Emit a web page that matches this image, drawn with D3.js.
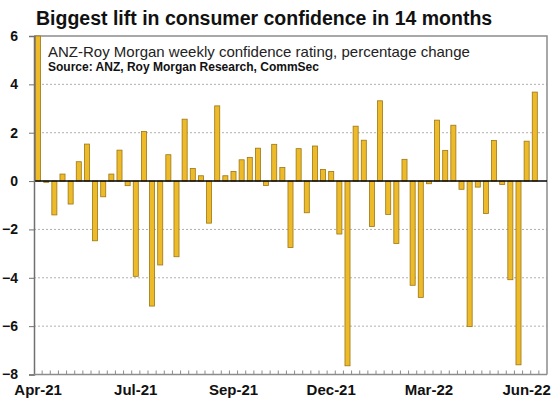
<!DOCTYPE html>
<html lang="en">
<head>
<meta charset="utf-8">
<title>Biggest lift in consumer confidence in 14 months</title>
<script src="https://d3js.org/d3.v7.min.js"></script>
<style>
  body { margin: 0; background: #fff; }
  text { font-family: "Liberation Sans", Arial, sans-serif; }
</style>
</head>
<body>
<script>

// weekly % change, ANZ-Roy Morgan consumer confidence (Apr-21 .. Jun-22)
var values = [6.0, -0.05, -1.40, 0.29, -0.95, 0.80, 1.53, -2.47, -0.65, 0.29,
  1.28, -0.19, -3.94, 2.05, -5.17, -3.47, 1.09, -3.13, 2.56, 0.52,
  0.22, -1.74, 3.11, 0.22, 0.40, 0.88, 0.98, 1.36, -0.18, 1.52,
  0.56, -2.75, 1.34, -1.31, 1.45, 0.48, 0.40, -2.19, -7.64, 2.27,
  1.69, -1.88, 3.32, -1.38, -2.58, 0.90, -4.31, -4.81, -0.11, 2.52,
  1.27, 2.31, -0.34, -6.02, -0.25, -1.34, 1.68, -0.14, -4.08, -7.60,
  1.65, 3.68];

// one category per week, plus an empty week at the end of the axis
var weeks = d3.range(values.length + 1);

// date labels sit on every 12th week
var xLabels = ["Apr-21", "Jul-21", "Sep-21", "Dec-21", "Mar-22", "Jun-22"];
var xLabelWeeks = [0, 12, 24, 36, 48, 60];

var yTicks = [-8, -6, -4, -2, 0, 2, 4, 6];

var W = 558, H = 411;
// plot box (note: "top" is reserved on window, so prefixed names)
var pLeft = 34, pRight = 547, pTop = 36, pBottom = 374.5;

var svg = d3.select("body").append("svg")
  .attr("width", W)
  .attr("height", H);

var x = d3.scaleBand()
  .domain(weeks)
  .range([pLeft, pRight])
  .paddingInner(0.38)
  .paddingOuter(0.19);

var y = d3.scaleLinear()
  .domain([-8, 6])
  .range([pBottom, pTop]);

// title
svg.append("text")
  .attr("x", 36)
  .attr("y", 25)
  .attr("font-size", 19.5)
  .attr("font-weight", "bold")
  .attr("fill", "#111")
  .text("Biggest lift in consumer confidence in 14 months");

// dotted gridlines
svg.append("g")
  .selectAll("line")
  .data(yTicks.filter(function(d){ return d != 0 && d != 6 && d != -8; }))
  .enter()
  .append("line")
  .attr("x1", pLeft)
  .attr("x2", pRight)
  .attr("y1", function(d){ return y(d); })
  .attr("y2", function(d){ return y(d); })
  .attr("stroke", "#b0b0b0")
  .attr("stroke-width", 1)
  .attr("stroke-dasharray", "2,2");

// frame (top and right)
svg.append("path")
  .attr("d", "M" + pLeft + "," + pTop + "H" + pRight + "V" + pBottom)
  .attr("fill", "none")
  .attr("stroke", "#8c8c8c")
  .attr("stroke-width", 1.5);

// bars
svg.append("g")
  .selectAll("rect")
  .data(values)
  .enter()
  .append("rect")
  .attr("x", function(d, i){ return x(weeks[i]); })
  .attr("width", x.bandwidth())
  .attr("y", function(d){ return y(Math.max(0, d)); })
  .attr("height", function(d){ return Math.abs(y(d) - y(0)); })
  .attr("fill", "#EDBA2A")
  .attr("stroke", "#9C7614")
  .attr("stroke-width", 0.8);

// zero line
svg.append("line")
  .attr("x1", pLeft)
  .attr("x2", pRight)
  .attr("y1", y(0))
  .attr("y2", y(0))
  .attr("stroke", "#000")
  .attr("stroke-width", 1.5);

// y axis
var yAxis = svg.append("g")
  .attr("transform", "translate(" + pLeft + ",0)")
  .call(d3.axisLeft(y).tickValues(yTicks).tickSize(5).tickPadding(11));
yAxis.select(".domain").attr("stroke", "#707070").attr("stroke-width", 1.5);
yAxis.selectAll(".tick line").attr("stroke", "#707070");
yAxis.selectAll(".tick text")
  .attr("font-size", 14)
  .attr("font-weight", "bold")
  .attr("fill", "#111")
  .attr("font-family", "Liberation Sans, Arial, sans-serif");

// bottom axis line with small inside ticks at week boundaries
svg.append("line")
  .attr("x1", pLeft)
  .attr("x2", pRight)
  .attr("y1", pBottom)
  .attr("y2", pBottom)
  .attr("stroke", "#8c8c8c")
  .attr("stroke-width", 1.5);

svg.append("g")
  .selectAll("line")
  .data(weeks.slice(1))
  .enter()
  .append("line")
  .attr("x1", function(d){ return x(d) - x.step() * x.paddingInner() / 2; })
  .attr("x2", function(d){ return x(d) - x.step() * x.paddingInner() / 2; })
  .attr("y1", pBottom)
  .attr("y2", pBottom - 4)
  .attr("stroke", "#8c8c8c")
  .attr("stroke-width", 1);

// date labels
svg.append("g")
  .selectAll("text")
  .data(xLabels)
  .enter()
  .append("text")
  .attr("x", function(d, i){ return x(xLabelWeeks[i]) + x.bandwidth() / 2; })
  .attr("y", 395)
  .attr("text-anchor", "middle")
  .attr("font-size", 15)
  .attr("font-weight", "bold")
  .attr("fill", "#111")
  .text(function(d){ return d; });

// subtitle and source inside the plot
svg.append("text")
  .attr("x", 48)
  .attr("y", 57)
  .attr("font-size", 15)
  .attr("fill", "#222")
  .text("ANZ-Roy Morgan weekly confidence rating, percentage change");

svg.append("text")
  .attr("x", 48)
  .attr("y", 71)
  .attr("font-size", 12)
  .attr("font-weight", "bold")
  .attr("fill", "#111")
  .text("Source: ANZ, Roy Morgan Research, CommSec");

</script>
</body>
</html>
